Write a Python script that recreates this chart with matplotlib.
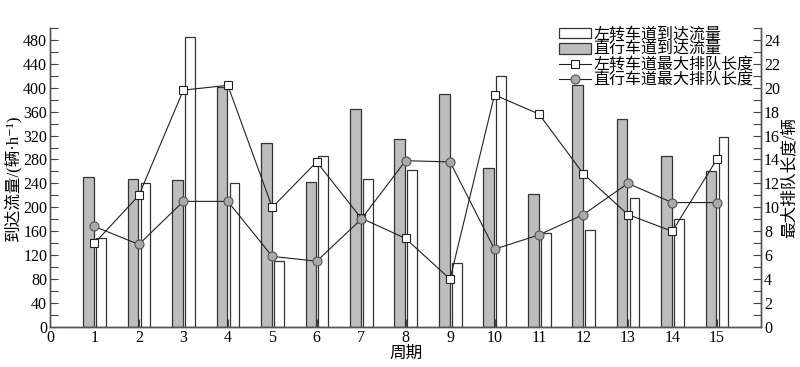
import numpy as np
import matplotlib
matplotlib.use('Agg')
import matplotlib.pyplot as plt
from matplotlib.ticker import MultipleLocator

plt.rcParams['font.family'] = ['Liberation Serif', 'Noto Sans CJK SC', 'DejaVu Sans']

# 周期
period = np.arange(1, 16)
# 到达流量 (辆/h)
left_flow = [149, 240, 485, 241, 110, 286, 247, 262, 107, 419, 157, 162, 216, 181, 318]
straight_flow = [250, 247, 246, 402, 308, 242, 365, 314, 390, 266, 222, 404, 347, 286, 261]
# 最大排队长度 (辆)
left_queue = [7.0, 11.0, 19.8, 20.2, 10.0, 13.8, 9.1, 7.4, 4.0, 19.4, 17.8, 12.8, 9.4, 8.0, 14.0]
straight_queue = [8.4, 6.9, 10.5, 10.5, 5.9, 5.5, 9.0, 13.9, 13.8, 6.5, 7.7, 9.4, 12.0, 10.4, 10.4]

fig = plt.figure(figsize=(8, 3.67), dpi=100)
ax = fig.add_axes([0.0625, 0.109, 0.889, 0.815])
ax2 = ax.twinx()

b1 = ax.bar(period + 0.15, left_flow, width=0.22, color='white', edgecolor='#333333', lw=0.9,
            label='左转车道到达流量')
b2 = ax.bar(period - 0.13, straight_flow, width=0.24, color='#bdbdbd', edgecolor='#333333', lw=0.9,
            label='直行车道到达流量')
l1, = ax2.plot(period, left_queue, '-s', color='#222222', lw=0.8, ms=6,
               mfc='white', mec='#222222', mew=0.8, label='左转车道最大排队长度')
l2, = ax2.plot(period, straight_queue, '-o', color='#222222', lw=0.8, ms=6.5,
               mfc='#a9a9a9', mec='#555555', mew=0.8, label='直行车道最大排队长度')

ax.set_xlim(0, 16)
ax.set_ylim(0, 500)
ax2.set_ylim(0, 25)
ax.set_xticks(range(0, 16))
ax.set_yticks(range(0, 481, 40))
ax.yaxis.set_minor_locator(MultipleLocator(20))
ax2.set_yticks(range(0, 25, 2))
ax2.yaxis.set_minor_locator(MultipleLocator(1))

for a in (ax, ax2):
    a.spines['top'].set_visible(False)
    a.tick_params(which='both', direction='in', labelsize=11.5, width=0.8, color='#444444',
                  length=6, pad=2)
    for s in a.spines.values():
        s.set_color('#555555')
        s.set_linewidth(1.0)

ax.set_xlabel('周期', fontsize=12, labelpad=0)
ax.set_ylabel('到达流量/(辆·h⁻¹)', fontsize=12, labelpad=1)
ax2.set_ylabel('最大排队长度/辆', fontsize=12, labelpad=1)

ax2.legend([b1, b2, l1, l2], [h.get_label() for h in (b1, b2, l1, l2)],
           loc='upper right', bbox_to_anchor=(1.0, 1.03), frameon=False, fontsize=11.5,
           handlelength=2.0, handleheight=0.6, handletextpad=0.15, labelspacing=-0.05,
           borderaxespad=0.1)

fig.savefig('out.png', dpi=100)
